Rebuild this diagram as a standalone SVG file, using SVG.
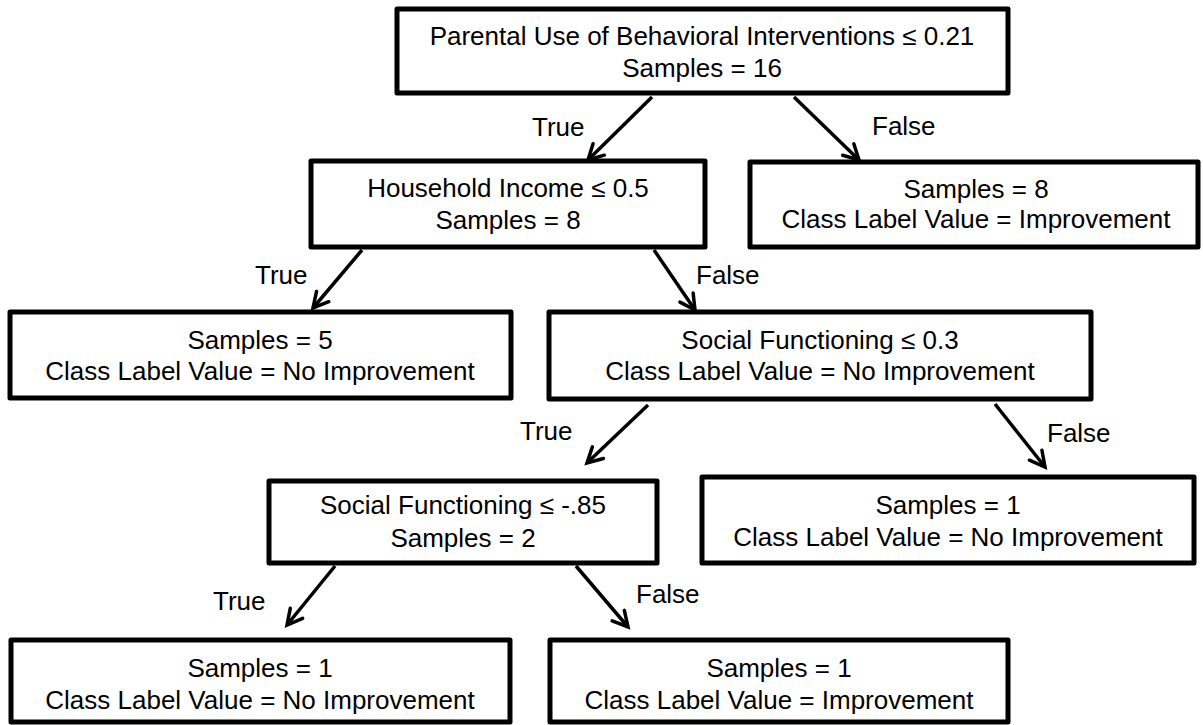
<svg xmlns="http://www.w3.org/2000/svg" width="1203" height="725" viewBox="0 0 1203 725">
<style>
.box{fill:#fff;stroke:#000;stroke-width:5;stroke-linejoin:round}
.t{font-family:"Liberation Sans",Arial,sans-serif;font-size:26px;fill:#000;text-anchor:middle}
.l{font-family:"Liberation Sans",Arial,sans-serif;font-size:26px;fill:#000}
.e{stroke:#000;stroke-width:3.5;fill:none;marker-end:url(#ah)}
</style>
<defs>
<marker id="ah" markerUnits="userSpaceOnUse" viewBox="-18 -10 22 20" refX="0" refY="0" markerWidth="22" markerHeight="20" orient="auto">
<path d="M-15,-8 L0,0 L-15,8" fill="none" stroke="#000" stroke-width="3.5" stroke-linecap="round" stroke-linejoin="miter"/>
</marker>
</defs>
<rect width="1203" height="725" fill="#fff"/>
<g id="connectors">
<line class="e" x1="652" y1="97" x2="588" y2="160"/>
<line class="e" x1="794" y1="97" x2="859" y2="160"/>
<line class="e" x1="362" y1="250" x2="313" y2="308"/>
<line class="e" x1="654" y1="250" x2="695" y2="310"/>
<line class="e" x1="648" y1="405" x2="587" y2="463"/>
<line class="e" x1="995" y1="404" x2="1045" y2="467"/>
<line class="e" x1="335" y1="566" x2="287" y2="625"/>
<line class="e" x1="576" y1="566" x2="628" y2="627"/>
<text class="l" x="532" y="136">True</text>
<text class="l" x="872" y="135">False</text>
<text class="l" x="255" y="284">True</text>
<text class="l" x="696" y="284">False</text>
<text class="l" x="520" y="440">True</text>
<text class="l" x="1047" y="442">False</text>
<text class="l" x="213" y="610">True</text>
<text class="l" x="636" y="603">False</text>
</g>
<g id="root">
<rect class="box" x="397" y="9" width="611" height="84"/>
<text class="t" x="702" y="45">Parental Use of Behavioral Interventions ≤ 0.21</text>
<text class="t" x="702" y="77">Samples = 16</text>
</g>
<g id="household">
<rect class="box" x="311" y="161" width="394" height="86"/>
<text class="t" x="508" y="197">Household Income ≤ 0.5</text>
<text class="t" x="508" y="229">Samples = 8</text>
</g>
<g id="leaf-improvement-8">
<rect class="box" x="750" y="162" width="448" height="85"/>
<text class="t" x="976" y="198">Samples = 8</text>
<text class="t" x="976" y="228">Class Label Value = Improvement</text>
</g>
<g id="leaf-noimprovement-5">
<rect class="box" x="10" y="312" width="501" height="86"/>
<text class="t" x="260" y="349">Samples = 5</text>
<text class="t" x="260" y="380">Class Label Value = No Improvement</text>
</g>
<g id="social-03">
<rect class="box" x="549" y="312" width="542" height="87"/>
<text class="t" x="820" y="349">Social Functioning ≤ 0.3</text>
<text class="t" x="820" y="380">Class Label Value = No Improvement</text>
</g>
<g id="social-085">
<rect class="box" x="269" y="481" width="388" height="82"/>
<text class="t" x="463" y="514">Social Functioning ≤ -.85</text>
<text class="t" x="463" y="547">Samples = 2</text>
</g>
<g id="leaf-noimprovement-1a">
<rect class="box" x="702" y="477" width="492" height="86"/>
<text class="t" x="948" y="514">Samples = 1</text>
<text class="t" x="948" y="546">Class Label Value = No Improvement</text>
</g>
<g id="leaf-noimprovement-1b">
<rect class="box" x="11" y="640" width="499" height="82"/>
<text class="t" x="260" y="677">Samples = 1</text>
<text class="t" x="260" y="709">Class Label Value = No Improvement</text>
</g>
<g id="leaf-improvement-1">
<rect class="box" x="550" y="640" width="458" height="82"/>
<text class="t" x="779" y="677">Samples = 1</text>
<text class="t" x="779" y="709">Class Label Value = Improvement</text>
</g>
</svg>
